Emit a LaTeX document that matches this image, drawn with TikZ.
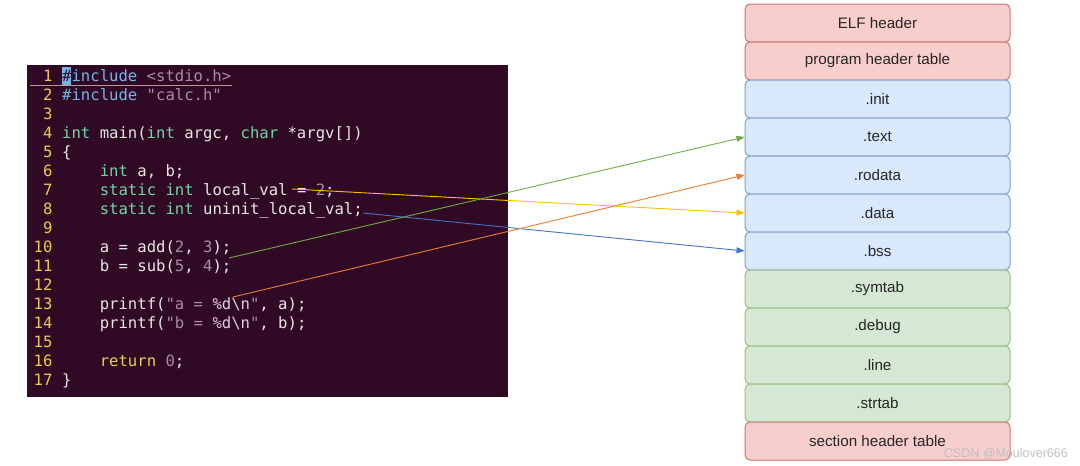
\documentclass[tikz,border=0pt]{standalone}
\usepackage{fontspec}
\setmainfont{Liberation Sans}
\setmonofont{DejaVu Sans Mono}
\usetikzlibrary{arrows.meta}

\definecolor{termbg}{HTML}{300A24}
\definecolor{termfg}{HTML}{E8E6E3}
\definecolor{lnumcol}{HTML}{EDCB4B}
\definecolor{precol}{HTML}{78B4E6}
\definecolor{strcol}{HTML}{A98BA9}
\definecolor{typecol}{HTML}{74D4A6}
\definecolor{spcol}{HTML}{E4CCE0}
\definecolor{retcol}{HTML}{E6CF55}
\definecolor{redfill}{HTML}{F8CECC}
\definecolor{reddraw}{HTML}{B85450}
\definecolor{bluefill}{HTML}{DAE8FC}
\definecolor{bluedraw}{HTML}{6C8EBF}
\definecolor{greenfill}{HTML}{D5E8D4}
\definecolor{greendraw}{HTML}{82B366}
\definecolor{arrgreen}{HTML}{70AD47}
\definecolor{arrorange}{HTML}{ED7D31}
\definecolor{arryellow}{HTML}{FFC000}
\definecolor{arrblue}{HTML}{4472C4}

\newcommand{\codepre}[1]{\textcolor{precol}{#1}}
\newcommand{\codestr}[1]{\textcolor{strcol}{#1}}
\newcommand{\codety}[1]{\textcolor{typecol}{#1}}
\newcommand{\codenum}[1]{\textcolor{strcol}{#1}}
\newcommand{\codesp}[1]{\textcolor{spcol}{#1}}
\newcommand{\coderet}[1]{\textcolor{retcol}{#1}}

\tikzset{
  code/.style={anchor=base west, inner sep=0pt, text=termfg,
    font=\ttfamily\fontsize{15.6}{19}\selectfont},
  lnum/.style={anchor=base east, inner sep=0pt, text=lnumcol,
    font=\ttfamily\fontsize{15.6}{19}\selectfont},
  sec/.style={draw, line width=1pt, rounded corners=5pt, minimum width=265pt,
    minimum height=38pt, inner sep=0pt, text=black!85,
    font=\fontsize{15.2}{17}\selectfont},
  redbox/.style={sec, fill=redfill, draw=reddraw!80},
  bluebox/.style={sec, fill=bluefill, draw=bluedraw!85},
  greenbox/.style={sec, fill=greenfill, draw=greendraw!85},
  arr/.style={line width=0.9pt, -{Triangle[length=8pt,width=6pt]}}
}

\begin{document}
\begin{tikzpicture}[x=1pt, y=-1pt]
        \path (0, 0) rectangle (1080, 466);
        \fill[termbg] (27, 65) rectangle (508, 397);
        \fill[precol] (62, 67) rectangle (71.4, 86);
        \draw[line width=1pt, color=strcol!80!lnumcol] (30, 85.5) -- (232, 85.5);
        \foreach \n in {1, ..., 17} {
                \node[lnum] (n\n) at (52.6, {81.5 + 19*(\n - 1)}) {\n};
        }
        \node[code] (l1) at (62, 81.5) {\textcolor{termbg}{\#}\codepre{include} \codestr{<stdio.h>}};
        \node[code] (l2) at (62, 100.5) {\codepre{\#include} \codestr{"calc.h"}};
        \node[code] (l4) at (62, 138.5) {\codety{int} main(\codety{int} argc, \codety{char} *argv[])};
        \node[code] (l5) at (62, 157.5) {\{};
        \node[code] (l6) at (99.6, 176.5) {\codety{int} a, b;};
        \node[code] (l7) at (99.6, 195.5) {\codety{static} \codety{int} local\_val = \codenum{2};};
        \node[code] (l8) at (99.6, 214.5) {\codety{static} \codety{int} uninit\_local\_val;};
        \node[code] (l10) at (99.6, 252.5) {a = add(\codenum{2}, \codenum{3});};
        \node[code] (l11) at (99.6, 271.5) {b = sub(\codenum{5}, \codenum{4});};
        \node[code] (l13) at (99.6, 309.5) {printf(\codestr{"a = }\codesp{\%d\textbackslash n}\codestr{"}, a);};
        \node[code] (l14) at (99.6, 328.5) {printf(\codestr{"b = }\codesp{\%d\textbackslash n}\codestr{"}, b);};
        \node[code] (l16) at (99.6, 366.5) {\coderet{return} \codenum{0};};
        \node[code] (l17) at (62, 385.5) {\}};

        \foreach \name/\txt/\kind [count=\i from 0] in {
                elf/ELF header/redbox, pht/program header table/redbox,
                init/.init/bluebox, text/.text/bluebox, rodata/.rodata/bluebox,
                data/.data/bluebox, bss/.bss/bluebox,
                symtab/.symtab/greenbox, debug/.debug/greenbox,
                line/.line/greenbox, strtab/.strtab/greenbox,
                sht/section header table/redbox} {
                \node[\kind] (\name) at (877.5, {23 + 38*\i}) {\txt};
        }

        \coordinate (localval) at (292, 189);
        \coordinate (uninit) at (363, 213);
        \coordinate (calls) at (229, 258);
        \coordinate (fmt) at (233, 297);
        \draw[arr, arryellow] (localval) -- (data.west);
        \draw[arr, arrblue] (uninit) -- (bss.west);
        \draw[arr, arrgreen] (calls) -- (text.west);
        \draw[arr, arrorange] (fmt) -- (rodata.west);

        \node[anchor=base east, inner sep=0pt, text=black!25, font=\fontsize{12.5}{14}\selectfont]
                (mark) at (1068, 457) {CSDN @Moulover666};
\end{tikzpicture}
\end{document}
